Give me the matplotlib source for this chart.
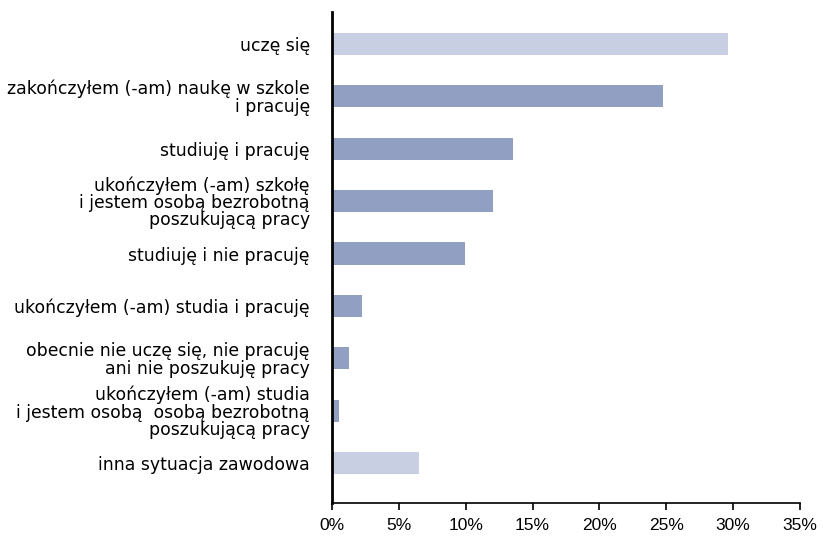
import matplotlib.pyplot as plt
import numpy as np
from matplotlib.ticker import FuncFormatter

labels = [
    "uczę się",
    "zakończyłem (-am) naukę w szkole\ni pracuję",
    "studiuję i pracuję",
    "ukończyłem (-am) szkołę\ni jestem osobą bezrobotną\nposzukującą pracy",
    "studiuję i nie pracuję",
    "ukończyłem (-am) studia i pracuję",
    "obecnie nie uczę się, nie pracuję\nani nie poszukuję pracy",
    "ukończyłem (-am) studia\ni jestem osobą  osobą bezrobotną\nposzukującą pracy",
    "inna sytuacja zawodowa",
]
values = [29.6, 24.75, 13.55, 12.05, 9.95, 2.25, 1.3, 0.55, 6.5]
light = [True, False, False, False, False, False, False, False, True]

fig = plt.figure(figsize=(8.23, 5.38), dpi=100)
ax = fig.add_axes([0.4034, 0.065, 0.5686, 0.913])

y = np.arange(len(labels))
colors = ["#c9cfe2" if l else "#919fc2" for l in light]
ax.barh(y, values, height=0.42, color=colors)

ax.set_ylim(len(labels) - 1 + 0.76, -0.61)
ax.set_xlim(0, 35)
ax.set_xticks(np.arange(0, 36, 5))
ax.xaxis.set_major_formatter(FuncFormatter(lambda v, p: f"{v:.0f}%"))
ax.set_yticks(y)
ax.set_yticklabels(labels, family="DejaVu Sans", fontsize=12.4, linespacing=0.95)
ax.tick_params(axis="y", length=0, pad=16)
ax.tick_params(axis="x", length=5, width=1.2, pad=6, labelsize=12.5)
for t in ax.get_xticklabels():
    t.set_family("Liberation Sans")

ax.spines["top"].set_visible(False)
ax.spines["right"].set_visible(False)
ax.spines["left"].set_linewidth(2)
ax.spines["bottom"].set_linewidth(1.2)

fig.savefig("out.png", dpi=100)
